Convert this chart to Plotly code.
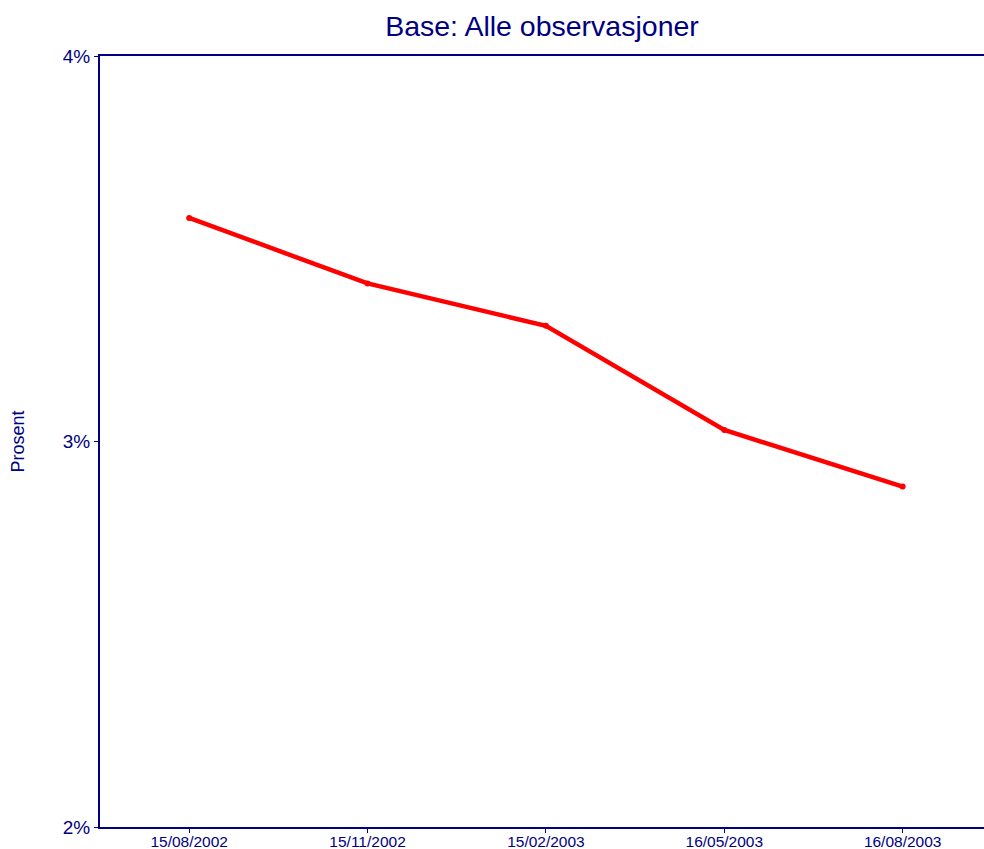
import plotly.graph_objects as go

# Observation dates and share (in percent)
dates = ["15/08/2002", "15/11/2002", "15/02/2003", "16/05/2003", "16/08/2003"]
prosent = [3.58, 3.41, 3.30, 3.03, 2.883]

y_ticks = [2, 3, 4]
y_labels = ["2%", "3%", "4%"]

navy = "#000080"
font_family = "Liberation Sans, Arial, sans-serif"

fig = go.Figure()
fig.add_trace(go.Scatter(
    x=list(range(len(dates))),
    y=prosent,
    mode="lines+markers",
    line=dict(color="#FF0000", width=4.5),
    marker=dict(color="#FF0000", size=6),
    showlegend=False,
    cliponaxis=False,
))

fig.update_layout(
    width=984,
    height=849,
    margin=dict(l=100, r=0, t=56, b=22, autoexpand=False),
    paper_bgcolor="white",
    plot_bgcolor="white",
    font=dict(family=font_family, color=navy),
    title=dict(
        text="Base: Alle observasjoner",
        x=0.5, xref="paper", xanchor="center",
        y=1 - 26 / 849, yref="container", yanchor="middle",
        font=dict(size=28.5, color=navy, family=font_family),
    ),
    xaxis=dict(
        tickmode="array",
        tickvals=list(range(len(dates))),
        ticktext=dates,
        range=[-0.5, 4.456],
        automargin=False,
        showgrid=False,
        zeroline=False,
        showline=True,
        linecolor=navy,
        linewidth=2,
        mirror=True,
        ticks="outside",
        ticklen=4,
        tickcolor=navy,
        ticklabelstandoff=-5,
        tickfont=dict(size=15.5, color=navy),
    ),
    yaxis=dict(
        tickmode="array",
        tickvals=y_ticks,
        ticktext=y_labels,
        range=[2, 4],
        automargin=False,
        showgrid=False,
        zeroline=False,
        showline=True,
        linecolor=navy,
        linewidth=2,
        ticks="outside",
        ticklen=4,
        tickcolor=navy,
        tickfont=dict(size=19, color=navy),
    ),
    annotations=[dict(
        text="Prosent",
        textangle=-90,
        x=(17 - 100) / 884, xref="paper", xanchor="center",
        y=0.5, yref="paper", yanchor="middle",
        showarrow=False,
        font=dict(size=18, color=navy, family=font_family),
    )],
)

fig.write_html("out.html")
